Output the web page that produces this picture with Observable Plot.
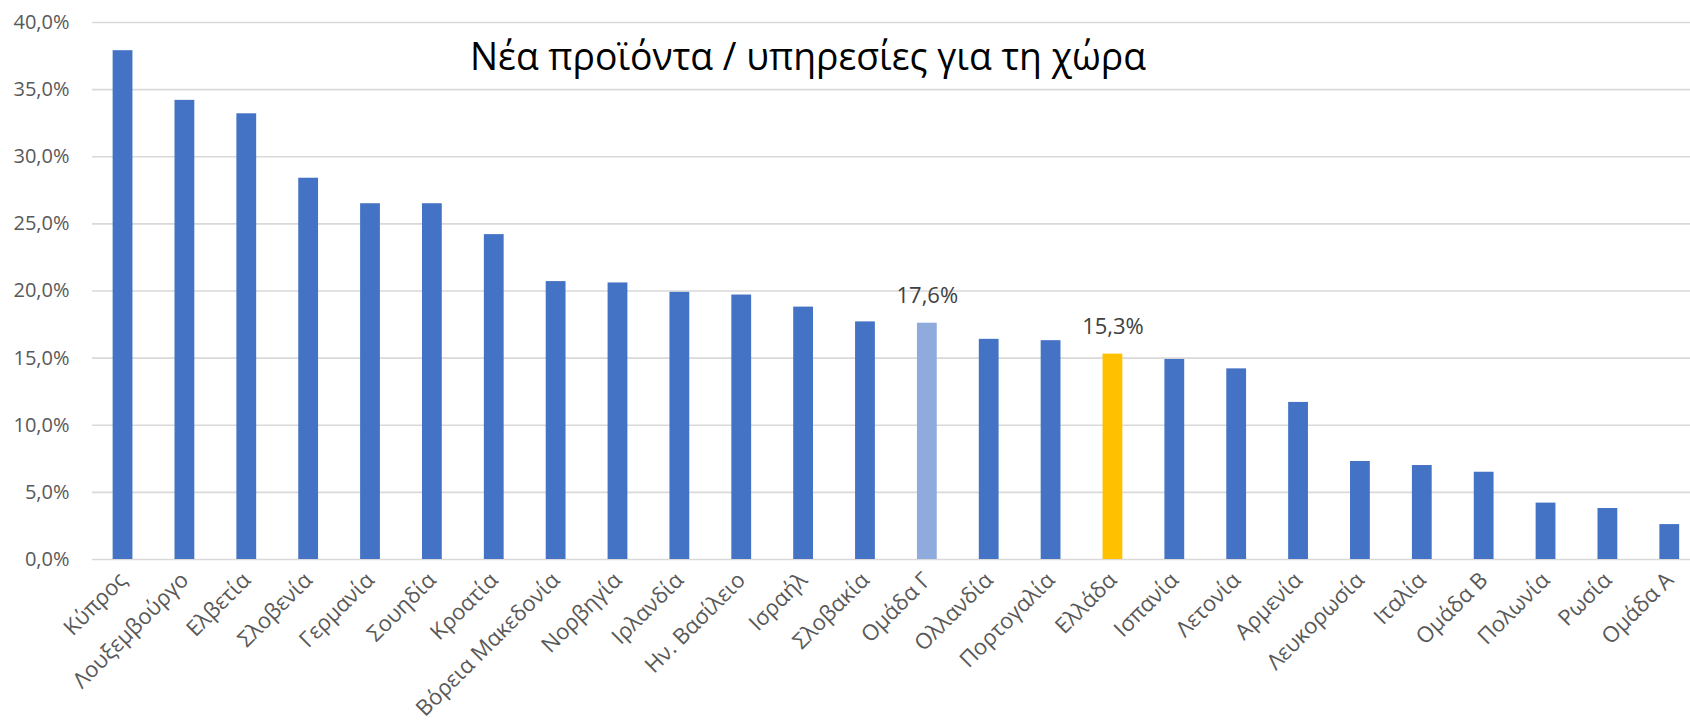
<!DOCTYPE html>
<html>
<head>
<meta charset="utf-8">
<script src="https://cdn.jsdelivr.net/npm/d3@7"></script>
<script src="https://cdn.jsdelivr.net/npm/@observablehq/plot@0.6"></script>
<style>
  html, body { margin: 0; padding: 0; background: #fff; overflow: hidden; }
  #wrap { position: relative; width: 1690px; height: 721px; }
  #title { position: absolute; white-space: nowrap; font-family: "Open Sans", sans-serif; font-size: 38px; color: #000; transform-origin: 0 0; }
</style>
</head>
<body>
<div id="wrap"><div id="title">Νέα προϊόντα / υπηρεσίες για τη χώρα</div></div>
<script>
const categories = ["Κύπρος","Λουξεμβούργο","Ελβετία","Σλοβενία","Γερμανία","Σουηδία","Κροατία","Βόρεια Μακεδονία","Νορβηγία","Ιρλανδία","Ην. Βασίλειο","Ισραήλ","Σλοβακία","Ομάδα Γ","Ολλανδία","Πορτογαλία","Ελλάδα","Ισπανία","Λετονία","Αρμενία","Λευκορωσία","Ιταλία","Ομάδα Β","Πολωνία","Ρωσία","Ομάδα Α"];
const values = [37.9,34.2,33.2,28.4,26.5,26.5,24.2,20.7,20.6,19.9,19.7,18.8,17.7,17.6,16.4,16.3,15.3,14.9,14.2,11.7,7.3,7.0,6.5,4.2,3.8,2.6];
const labelled = ["Ομάδα Γ","Ελλάδα"];
const highlight = {"Ομάδα Γ": "#8FAADC", "Ελλάδα": "#FFC000"};
const yTicks = [0,5,10,15,20,25,30,35,40];

const data = categories.map((c, i) => ({cat: c, v: values[i]}));
const fmt = d => d.toFixed(1).replace(".", ",") + "%";

const chart = Plot.plot({
  width: 1690,
  height: 721,
  marginTop: 22,
  marginBottom: 162,
  marginLeft: 92,
  marginRight: 0,
  style: {fontFamily: "Open Sans, sans-serif", fontSize: "20px", color: "#595959", background: "#fff"},
  x: {domain: categories, range: [91.6, 1700.2], paddingInner: 0.68, paddingOuter: 0.34, round: false, label: null},
  y: {domain: [0, 40], label: null},
  marks: [
    Plot.gridY(yTicks, {stroke: "#D9D9D9", strokeOpacity: 1, strokeWidth: 1.6}),
    Plot.barY(data, {x: "cat", y: "v", fill: d => highlight[d.cat] || "#4472C4"}),
    Plot.text(data.filter(d => labelled.includes(d.cat)), {x: "cat", y: "v", text: d => fmt(d.v), dy: -27, fill: "#404040", fontSize: 22}),
    Plot.axisY({ticks: yTicks, tickSize: 0, tickPadding: 23, tickFormat: fmt, fill: "#595959", fontSize: 20}),
    Plot.axisX({tickSize: 0, tickRotate: -45, tickPadding: 17, dx: 0, fill: "#595959", fontSize: 22})
  ]
});
const wrap = document.getElementById("wrap");
wrap.appendChild(chart);
chart.style.position = "absolute"; chart.style.left = "0"; chart.style.top = "0";
const t = document.getElementById("title");
t.style.zIndex = 2;
const w = t.getBoundingClientRect().width;
const target = 676;
const s = target / w;
t.style.transform = `scaleX(${s})`;
t.style.left = (808 - target / 2) + "px";
t.style.top = "29px";
</script>
</body>
</html>
